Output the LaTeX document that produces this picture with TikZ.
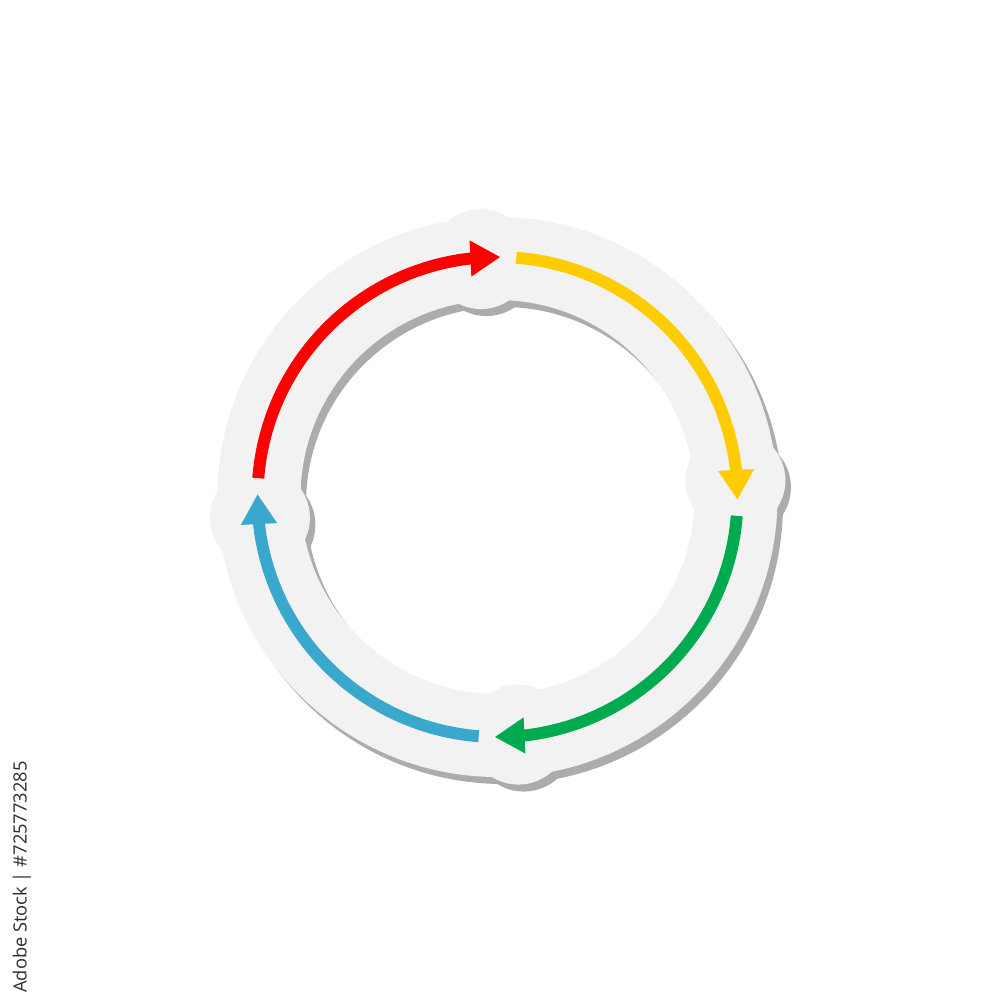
\documentclass[tikz,border=0pt]{standalone}
\usepackage{fontspec}
\setsansfont{Open Sans}
\usetikzlibrary{arrows.meta, bending}
\definecolor{cyred}{RGB}{255, 0, 0}
\definecolor{cyyellow}{RGB}{254, 204, 0}
\definecolor{cygreen}{RGB}{0, 170, 78}
\definecolor{cyblue}{RGB}{58, 168, 204}
\definecolor{ringgray}{RGB}{242, 242, 242}
\definecolor{shadowgray}{RGB}{172, 172, 172}
\definecolor{markgray}{RGB}{45, 45, 45}

\begin{document}
\begin{tikzpicture}[
  cyclearrow/.style={line width=3.4pt, -{Triangle[length=0.3cm, width=0.34cm, flex]}},
  markfont/.style={font=\sffamily\fontsize{5.2}{6}\selectfont, text=markgray}
]
  \useasboundingbox[fill=white] (0,0) rectangle (10,10);
  \coordinate (c) at (4.975,5.03);
  \coordinate (cshadow) at (5.03,4.96);

  % Sticker shadow, then the sticker ring with its four bumps
  \foreach \ctr/\col in {cshadow/shadowgray, c/ringgray} {
    \fill[\col, even odd rule] (\ctr) circle (2.8) (\ctr) circle (1.97);
    \foreach \a in {94,4,-85,-175}
      \fill[\col] (\ctr) ++(\a:2.385) circle (0.5);
  }

  % Four cycle arrows, clockwise
  \foreach \s/\e/\col in {175.5/89.3/cyred, 85.5/-0.7/cyyellow,
                          -4.5/-90.7/cygreen, -94.5/-180.7/cyblue}
    \draw[cyclearrow, \col] (c) ++(\s:2.4) arc[start angle=\s, end angle=\e, radius=2.4];

  % Vertical stock mark at the left edge
  \node[markfont, rotate=90] (stockmark) at (0.22,1.23) {Adobe Stock | \#725773285};
\end{tikzpicture}
\end{document}
